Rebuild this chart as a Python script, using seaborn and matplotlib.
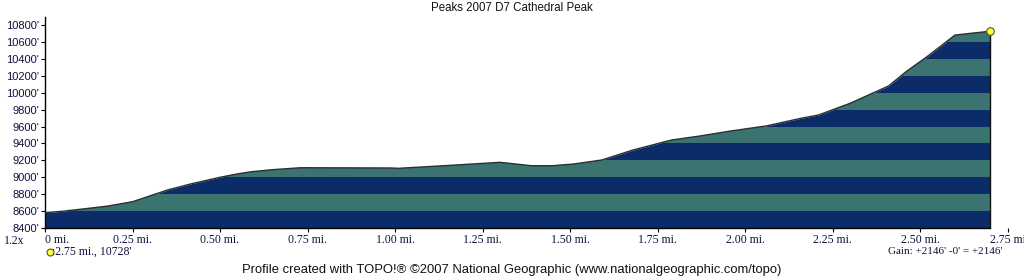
import numpy as np
import pandas as pd
import matplotlib
matplotlib.use("Agg")
import matplotlib.pyplot as plt
import matplotlib.lines as mlines
import seaborn as sns

# ---- data ----
miles = [0.0, 0.05, 0.10, 0.18, 0.25, 0.30, 0.35, 0.42, 0.50, 0.55, 0.59, 0.65, 0.73,
         0.99, 1.01, 1.16, 1.30, 1.39, 1.45, 1.51, 1.59, 1.68, 1.79, 1.87, 1.96, 2.06,
         2.16, 2.21, 2.30, 2.41, 2.46, 2.52, 2.60, 2.70]
elevation = [8582, 8598, 8621, 8660, 8711, 8780, 8850, 8925, 9000, 9040, 9066, 9090, 9113,
             9110, 9106, 9142, 9177, 9137, 9137, 9157, 9204, 9323, 9441, 9488, 9548, 9607,
             9698, 9737, 9875, 10080, 10249, 10427, 10683, 10728]
x_ticks = [0, 0.25, 0.5, 0.75, 1.0, 1.25, 1.5, 1.75, 2.0, 2.25, 2.5, 2.75]
x_tick_labels = ["0 mi.", "0.25 mi.", "0.50 mi.", "0.75 mi.", "1.00 mi.", "1.25 mi.",
                 "1.50 mi.", "1.75 mi.", "2.00 mi.", "2.25 mi.", "2.50 mi.", "2.75 mi"]
y_ticks = list(range(8400, 10801, 200))
y_tick_labels = [f"{v}'" for v in y_ticks]
title = "Peaks 2007 D7 Cathedral Peak"
footer = "Profile created with TOPO!\u00ae \u00a92007 National Geographic (www.nationalgeographic.com/topo)"
marker_label = ":2.75 mi., 10728'"
gain_label = "Gain: +2146' -0' = +2146'"
scale_label = "1.2x"

df = pd.DataFrame({"miles": miles, "elevation": elevation})

NAVY = "#0b2c68"
TEAL = "#3b7371"

sns.set_theme(style="white")
plt.rcParams["font.family"] = ["Liberation Sans", "DejaVu Sans"]

W, H = 1024, 278
fig = plt.figure(figsize=(W / 100, H / 100), dpi=100)
ax = fig.add_axes([45 / W, (H - 228) / H, (1007.5 - 45) / W, (228 - 16.7) / H])

ax.set_xlim(0, 2.75)
ax.set_ylim(8400, 10900)

# base fill (navy) and teal bands clipped to the profile
poly = ax.fill_between(df["miles"], 8400, df["elevation"], color=NAVY, linewidth=0, zorder=1)
clip_path = poly.get_paths()[0]
for lo in y_ticks[1:-1:2]:
    band = ax.axhspan(lo, lo + 200, color=TEAL, linewidth=0, zorder=2)
    band.set_clip_path(clip_path, ax.transData)

sns.lineplot(data=df, x="miles", y="elevation", color="#2b3030", linewidth=1.0, ax=ax, zorder=3)
ax.vlines(df["miles"].iloc[-1], 8400, df["elevation"].iloc[-1], color="#101010", linewidth=1.0, zorder=3)
ax.scatter([df["miles"].iloc[-1]], [df["elevation"].iloc[-1]], s=30, color="#ffff33",
           edgecolor="#555522", linewidth=0.8, zorder=5, clip_on=False)

ax.set_xlabel("")
ax.set_ylabel("")
for s in ["top", "right"]:
    ax.spines[s].set_visible(False)
ax.spines["left"].set_color("black")
ax.spines["bottom"].set_color("black")
ax.spines["left"].set_linewidth(1.0)
ax.spines["bottom"].set_linewidth(1.0)
ax.spines["bottom"].set_bounds(0, df["miles"].iloc[-1])

ax.set_xticks(x_ticks)
ax.set_xticklabels(x_tick_labels, fontfamily="Liberation Serif", fontsize=8.5, color="#101040")
ax.set_yticks(y_ticks)
ax.set_yticklabels(y_tick_labels, fontsize=8, color="#101040")
ax.tick_params(axis="both", which="both", direction="out", length=3, width=0.8, color="black",
               bottom=True, left=True, pad=1)
ax.get_xticklabels()[0].set_ha("left")

fig.text(512 / W, 1 - 8 / H, title, ha="center", va="center", fontsize=8.3, color="#111111")
fig.text(512 / W, 1 - 270 / H, footer, ha="center", va="center", fontsize=9.4, color="#111111")
fig.text(4 / W, 1 - 241 / H, scale_label, ha="left", va="center", fontsize=8.5,
         fontfamily="Liberation Serif", color="#101040")
fig.text(52 / W, 1 - 252 / H, marker_label, ha="left", va="center", fontsize=8.5,
         fontfamily="Liberation Serif", color="#101040")
fig.add_artist(mlines.Line2D([49.5 / W], [1 - 252 / H], marker="o", markersize=5,
                             markerfacecolor="#ffff33", markeredgecolor="#555522",
                             markeredgewidth=0.8, linestyle="none",
                             transform=fig.transFigure))
fig.text(1003 / W, 1 - 251.5 / H, gain_label, ha="right", va="center", fontsize=8,
         fontfamily="Liberation Serif", color="#101040")

fig.savefig("out.png", dpi=100, facecolor="white")
